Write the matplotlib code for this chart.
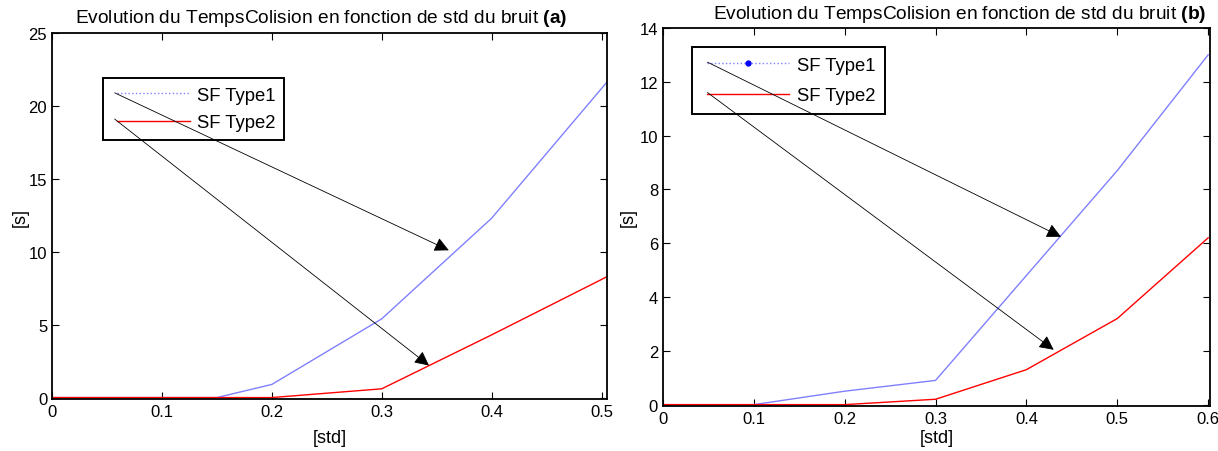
import matplotlib
matplotlib.use("Agg")
import matplotlib.pyplot as plt
from matplotlib.lines import Line2D
from matplotlib.legend_handler import HandlerLine2D

plt.rcParams['font.family'] = ['Liberation Sans', 'DejaVu Sans']
plt.rcParams['mathtext.fontset'] = 'custom'
plt.rcParams['mathtext.rm'] = 'Liberation Sans'
plt.rcParams['mathtext.bf'] = 'Liberation Sans:bold'

# ==== data (a) ====
std_a = [0, 0.1, 0.15, 0.2, 0.3, 0.4, 0.5, 0.6]
type1_a = [0, 0, 0, 0.9, 5.4, 12.3, 21.2, 30.2]
type2_a = [0, 0, 0, 0, 0.6, 4.3, 8.1, 12.0]

# ==== data (b) ====
std_b = [0, 0.1, 0.2, 0.3, 0.4, 0.5, 0.6]
type1_b = [0, 0, 0.5, 0.9, 4.8, 8.7, 13.0]
type2_b = [0, 0, 0, 0.2, 1.3, 3.2, 6.2]

labels = ["SF Type1", "SF Type2"]
title = "Evolution du TempsColision en fonction de std du bruit"

BLUE = (0.5, 0.5, 1.0)
RED = (1.0, 0.0, 0.0)

fig = plt.figure(figsize=(12.18, 4.52), dpi=100)
ax1 = fig.add_axes([0.0427, 0.115, 0.4557, 0.8097])
ax2 = fig.add_axes([0.5443, 0.0996, 0.4491, 0.8363])


def style_axes(ax):
    ax.tick_params(direction='in', top=True, right=True, labelsize=12, length=5, width=0.8)
    for s in ax.spines.values():
        s.set_linewidth(1.3)
    ax.set_xlabel("[std]", fontsize=13)
    ax.set_ylabel("[s]", fontsize=13)


def add_legend(ax, handles, anchor, bp, ls, hl, htp, xpad):
    leg = ax.legend(handles, labels, loc='upper left', bbox_to_anchor=anchor,
                    bbox_transform=fig.transFigure, fontsize=13.3, fancybox=False,
                    framealpha=1, edgecolor='black', handlelength=hl,
                    handletextpad=htp, borderpad=bp, labelspacing=ls,
                    borderaxespad=0, numpoints=1,
                    handler_map={Line2D: HandlerLine2D(xpad=xpad)})
    leg.get_frame().set_linewidth(1.4)
    return leg


def add_arrow(ax, start, tip):
    # drawn above the legend, like the original annotation arrows
    ax.annotate("", xy=tip, xytext=start, zorder=6,
                arrowprops=dict(arrowstyle='-|>', mutation_scale=22, lw=0.6,
                                color='black', shrinkA=0, shrinkB=0))


# ---- (a) ----
ax1.plot(std_a, type1_a, color=BLUE, lw=1.0)
ax1.plot(std_a, type2_a, color=RED, lw=1.0)
ax1.set_xlim(0, 0.505)
ax1.set_ylim(-0.1, 25)
ax1.set_xticks([0, 0.1, 0.2, 0.3, 0.4, 0.5])
ax1.set_xticklabels(["0", "0.1", "0.2", "0.3", "0.4", "0.5"])
ax1.set_yticks([0, 5, 10, 15, 20, 25])
style_axes(ax1)
ax1.xaxis.labelpad = 7
ax1.yaxis.labelpad = 0
h_a = [Line2D([], [], color=BLUE, lw=1.0, ls=':'), Line2D([], [], color=RED, lw=1.0)]
add_legend(ax1, h_a, (0.0846, 0.825), bp=0.47, ls=0.57, hl=4.23, htp=0.38, xpad=0.29)
add_arrow(ax1, (0.057, 20.9), (0.361, 10.1))
add_arrow(ax1, (0.057, 19.1), (0.343, 2.2))
fig.text(0.2635, 0.958, title + r" $\mathbf{(a)}$", ha='center', va='center', fontsize=13.8)

# ---- (b) ----
ax2.plot(std_b, type1_b, color=BLUE, lw=1.0)
ax2.plot(std_b, type2_b, color=RED, lw=1.0)
ax2.set_xlim(0, 0.602)
ax2.set_ylim(-0.05, 14)
ax2.set_xticks([0, 0.1, 0.2, 0.3, 0.4, 0.5, 0.6])
ax2.set_xticklabels(["0", "0.1", "0.2", "0.3", "0.4", "0.5", "0.6"])
ax2.set_yticks([0, 2, 4, 6, 8, 10, 12, 14])
style_axes(ax2)
ax2.xaxis.labelpad = 2
ax2.yaxis.labelpad = 2
h_b = [Line2D([], [], color=BLUE, lw=1.0, ls=':', marker='o', markersize=3.5,
              mfc='blue', mec='blue'),
       Line2D([], [], color=RED, lw=1.0)]
add_legend(ax2, h_b, (0.568, 0.8936), bp=0.52, ls=0.73, hl=4.72, htp=0.43, xpad=0.29)
add_arrow(ax2, (0.049, 12.73), (0.438, 6.24))
add_arrow(ax2, (0.049, 11.6), (0.43, 2.04))
fig.text(0.788, 0.967, title + r" $\mathbf{(b)}$", ha='center', va='center', fontsize=13.8)

fig.savefig("out.png", dpi=100)
